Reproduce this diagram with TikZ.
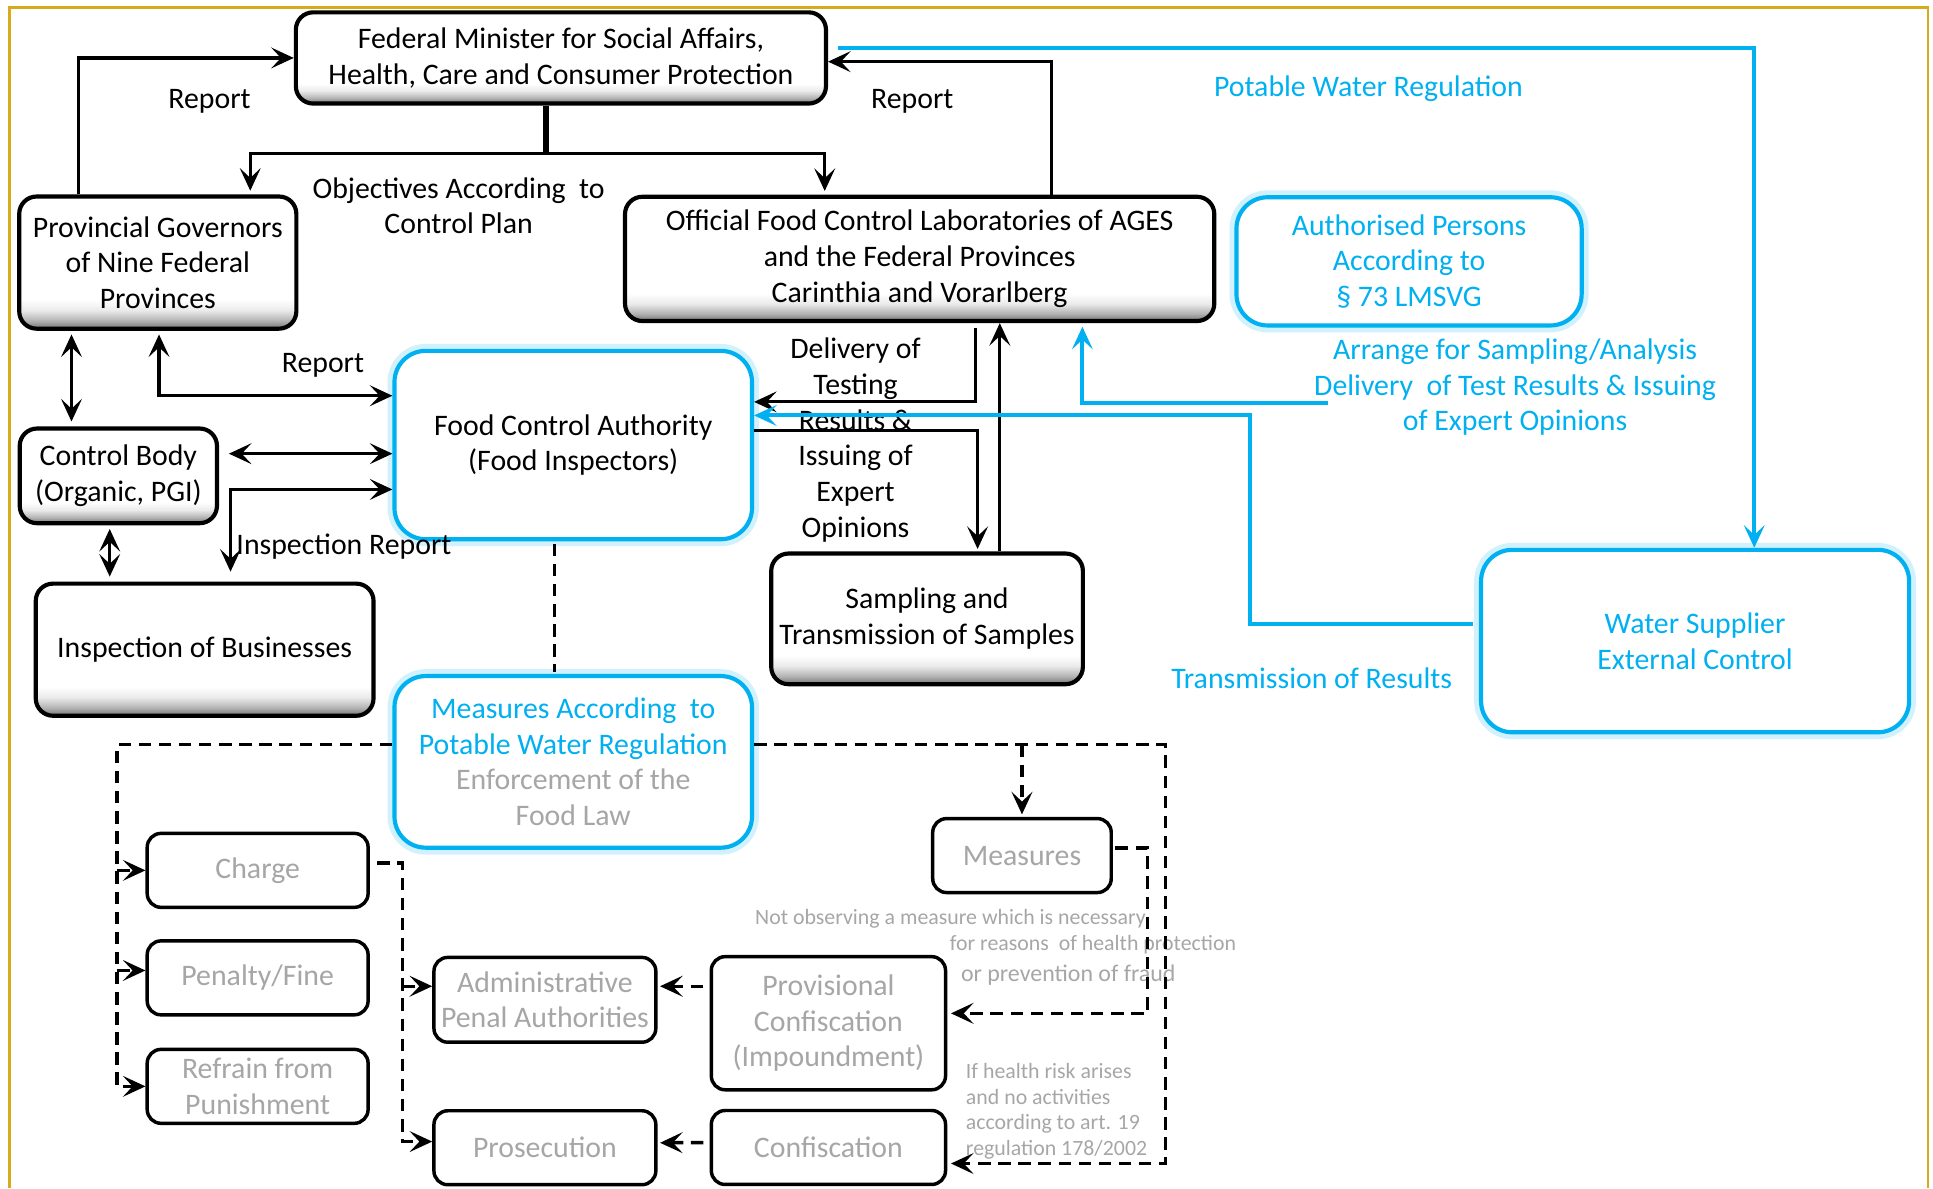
\documentclass[tikz,border=0pt]{standalone}
\usepackage{fontspec}
\setmainfont{Carlito}
\usetikzlibrary{arrows.meta, positioning}
\definecolor{waterblue}{RGB}{0,176,240}
\definecolor{framegold}{RGB}{214,172,30}
\newcommand{\boxfont}{\fontsize{8.6}{10.3}\selectfont}
\newcommand{\notefont}{\fontsize{6.3}{7.4}\selectfont}
\pgfdeclareverticalshading{bevelshade}{100bp}{color(0bp)=(black!55); color(25bp)=(black!55); color(28bp)=(black!30); color(32bp)=(black!8); color(36bp)=(white); color(100bp)=(white)}
\tikzstyle{bevel} = [rectangle, rounded corners=5pt, draw=black, line width=1.2pt, shading=bevelshade, align=center, text=black, font=\boxfont, inner sep=1pt]
\tikzstyle{bluebox} = [rectangle, rounded corners=9pt, draw=waterblue, line width=1.2pt, fill=white, align=center, font=\boxfont, preaction={draw=waterblue!18, line width=4pt}]
\tikzstyle{greybox} = [rectangle, rounded corners=4pt, draw=black, line width=1pt, fill=white, align=center, text=black!35, font=\boxfont, inner sep=1pt]
\tikzstyle{lbl} = [align=center, font=\boxfont, inner sep=0pt]
\tikzstyle{note} = [align=left, font=\notefont, text=black!35, inner sep=0pt]
\tikzstyle{edge} = [line width=0.9pt, ->, >={Stealth[length=6.5pt, width=6pt, inset=2.8pt]}]
\tikzstyle{dedge} = [edge, <->]
\tikzstyle{blueedge} = [edge, draw=waterblue, line width=1.15pt]
\tikzstyle{dashline} = [line width=1pt, dash pattern=on 3.6pt off 2.2pt]
\tikzstyle{dashedge} = [dashline, ->, >={Stealth[length=6.5pt, width=6pt, inset=2.8pt]}]

\begin{document}
\begin{tikzpicture}[x=0.125mm, y=-0.125mm]
\useasboundingbox (0,0) rectangle (1568,964);
\draw [framegold, line width=0.8pt] (8,964) -- (8,6) -- (1564,6) -- (1564,964);

% upper part
\node (fm) [bevel, minimum width=53.75mm, minimum height=9.25mm] at (455,47) {Federal Minister for Social Affairs,\\Health, Care and Consumer Protection};
\node (pg) [bevel, minimum width=28.1mm, minimum height=13.4mm] at (128,213) {Provincial Governors\\of Nine Federal\\Provinces};
\node (lab) [bevel, minimum width=59.75mm, minimum height=12.6mm] at (746,210) {Official Food Control Laboratories of AGES\\and the Federal Provinces\\Carinthia and Vorarlberg};
\node (auth) [bluebox, text=waterblue, minimum width=35mm, minimum height=13mm] at (1143,212) {Authorised Persons\\According to\\§ 73 LMSVG};
\node (fca) [bluebox, minimum width=36.25mm, minimum height=19.1mm] at (465,361) {Food Control Authority\\(Food Inspectors)};
\node (cb) [bevel, minimum width=20mm, minimum height=9.6mm] at (96,386) {Control Body\\(Organic, PGI)};
\node (ib) [bevel, minimum width=34.25mm, minimum height=13.4mm] at (166,527) {Inspection of Businesses};
\node (samp) [bevel, minimum width=31.6mm, minimum height=13.25mm] at (752,502) {Sampling and\\Transmission of Samples};
\node (ws) [bluebox, text=waterblue, minimum width=43.4mm, minimum height=18.5mm] at (1375,520) {Water Supplier\\External Control};
\node (meas) [bluebox, text=black!35, minimum width=36.25mm, minimum height=17.4mm] at (465,618) {\textcolor{waterblue}{Measures According\ \ to}\\\textcolor{waterblue}{Potable Water Regulation}\\Enforcement of the\\Food Law};

% lower part
\node (charge) [greybox, minimum width=22.4mm, minimum height=7.5mm] at (209,706) {Charge};
\node (pen) [greybox, minimum width=22.4mm, minimum height=7.5mm, node distance=10.9mm, below of=charge] {Penalty/Fine};
\node (refrain) [greybox, minimum width=22.4mm, minimum height=7.5mm, node distance=11mm, below of=pen] {Refrain from\\Punishment};
\node (adm) [greybox, minimum width=22.5mm, minimum height=8.6mm] at (442,811) {Administrative\\Penal Authorities};
\node (pros) [greybox, minimum width=22.5mm, minimum height=7.5mm, node distance=15mm, below of=adm] {Prosecution};
\node (prov) [greybox, minimum width=23.75mm, minimum height=13.5mm] at (672,830) {Provisional\\Confiscation\\(Impoundment)};
\node (conf) [greybox, minimum width=23.75mm, minimum height=7.5mm, node distance=12.6mm, below of=prov] {Confiscation};
\node (msr) [greybox, minimum width=18.1mm, minimum height=7.5mm] at (829,694) {Measures};

% labels
\node (rep1) [lbl] at (170,82) {Report};
\node (rep2) [lbl] at (740,82) {Report};
\node (obj) [lbl] at (372,167) {Objectives According\ \ to\\Control Plan};
\node (pwr) [lbl, text=waterblue] at (1110,72) {Potable Water Regulation};
\node (rep3) [lbl] at (262,296) {Report};
\node (deliv) [lbl] at (694,357) {Delivery of\\Testing\\Results \&\\Issuing of\\Expert\\Opinions};
\node (arr) [lbl, text=waterblue] at (1229,314) {Arrange for Sampling/Analysis\\Delivery\ \ of Test Results \& Issuing\\of Expert Opinions};
\node (insp) [lbl] at (279,443) {Inspection Report};
\node (trans) [lbl, text=waterblue] at (1064,550) {Transmission of Results};
\node (note1) [note, anchor=west] at (612,745) {Not observing a measure which is necessary};
\node (note2) [note, anchor=west] at (770,766) {for reasons\ \ of health protection};
\node (note3) [note, anchor=west, font=\fontsize{6.9}{8}\selectfont] at (779,791) {or prevention of fraud};
\node (note4) [note, anchor=north west] at (783,862) {If health risk arises\\and no activities\\according to art. 19\\regulation 178/2002};

% black connectors
\draw [edge] ([shift={(-64,0)}]pg.north) |- (fm.west);
\draw [edge] ([shift={(107,0)}]lab.north) |- ([shift={(0,3)}]fm.east);
\draw [line width=1.8pt] ([shift={(-12,0)}]fm.south) -- ([shift={(-12,39)}]fm.south) coordinate (split);
\draw [edge] (split) -| ([shift={(75,-3)}]pg.north);
\draw [edge] (split) -| ([shift={(-77,-3)}]lab.north);
\draw [dedge] ([shift={(-70,3)}]pg.south) -- ([shift={(-38,-4)}]cb.north);
\draw [dedge] ([shift={(1,3)}]pg.south) |- ([shift={(0,-40)}]fca.west);
\draw [dedge] ([shift={(8,-18)}]cb.east) -- ([shift={(0,7)}]fca.west);
\draw [dedge] ([shift={(0,36)}]fca.west) -| ([shift={(21,-8)}]ib.north);
\draw [dedge] ([shift={(-7,3)}]cb.south) -- ([shift={(-77,-4)}]ib.north);
\draw [edge] ([shift={(45,4)}]lab.south) |- ([shift={(0,-35)}]fca.east);
\draw [edge] ([shift={(0,-12)}]fca.east) -| ([shift={(41,-2)}]samp.north);
\draw [edge] ([shift={(59,0)}]samp.north) -- ([shift={(65,0)}]lab.south);

% blue connectors
\coordinate (arrstart) at (1077,327);
\draw [blueedge] ([shift={(8,-8)}]fm.east) -| ([shift={(48,0)}]ws.north);
\draw [blueedge] (arrstart) -| ([shift={(132,3)}]lab.south);
\draw [blueedge] ([shift={(-5,-14)}]ws.west) -- ([shift={(-186,-14)}]ws.west) |- ([shift={(0,-24)}]fca.east);

% dashed connectors
\coordinate (mtop) at ([shift={(0,-14)}]meas.east);
\draw [dashline] ([shift={(-15,2)}]fca.south) -- ([shift={(-15,-2)}]meas.north);
\draw [dashedge] ([shift={(0,-14)}]meas.west) -| ([shift={(-23,0)}]refrain.west) -- (refrain.west);
\draw [dashedge] ([shift={(-23,0)}]charge.west) -- (charge.west);
\draw [dashedge] ([shift={(-23,-6)}]pen.west) -- ([shift={(0,-6)}]pen.west);
\draw [dashedge] (mtop) -| ([shift={(177,13)}]conf.east) -- ([shift={(3,13)}]conf.east);
\draw [dashedge] (msr.north |- mtop) -- ([shift={(0,-2)}]msr.north);
\draw [dashedge] ([shift={(2,-6)}]msr.east) -- ([shift={(28,-6)}]msr.east) |- ([shift={(3,-8)}]prov.east);
\draw [dashedge] ([shift={(6,-6)}]charge.east) -| ([shift={(-24,-5)}]pros.west) -- ([shift={(0,-5)}]pros.west);
\draw [dashedge] ([shift={(-24,-11)}]adm.west) -- ([shift={(0,-11)}]adm.west);
\draw [dashedge] ([shift={(-5,-30)}]prov.west) -- ([shift={(2,-11)}]adm.east);
\draw [dashedge] ([shift={(-5,-4)}]conf.west) -- ([shift={(2,-4)}]pros.east);

\end{tikzpicture}
\end{document}
